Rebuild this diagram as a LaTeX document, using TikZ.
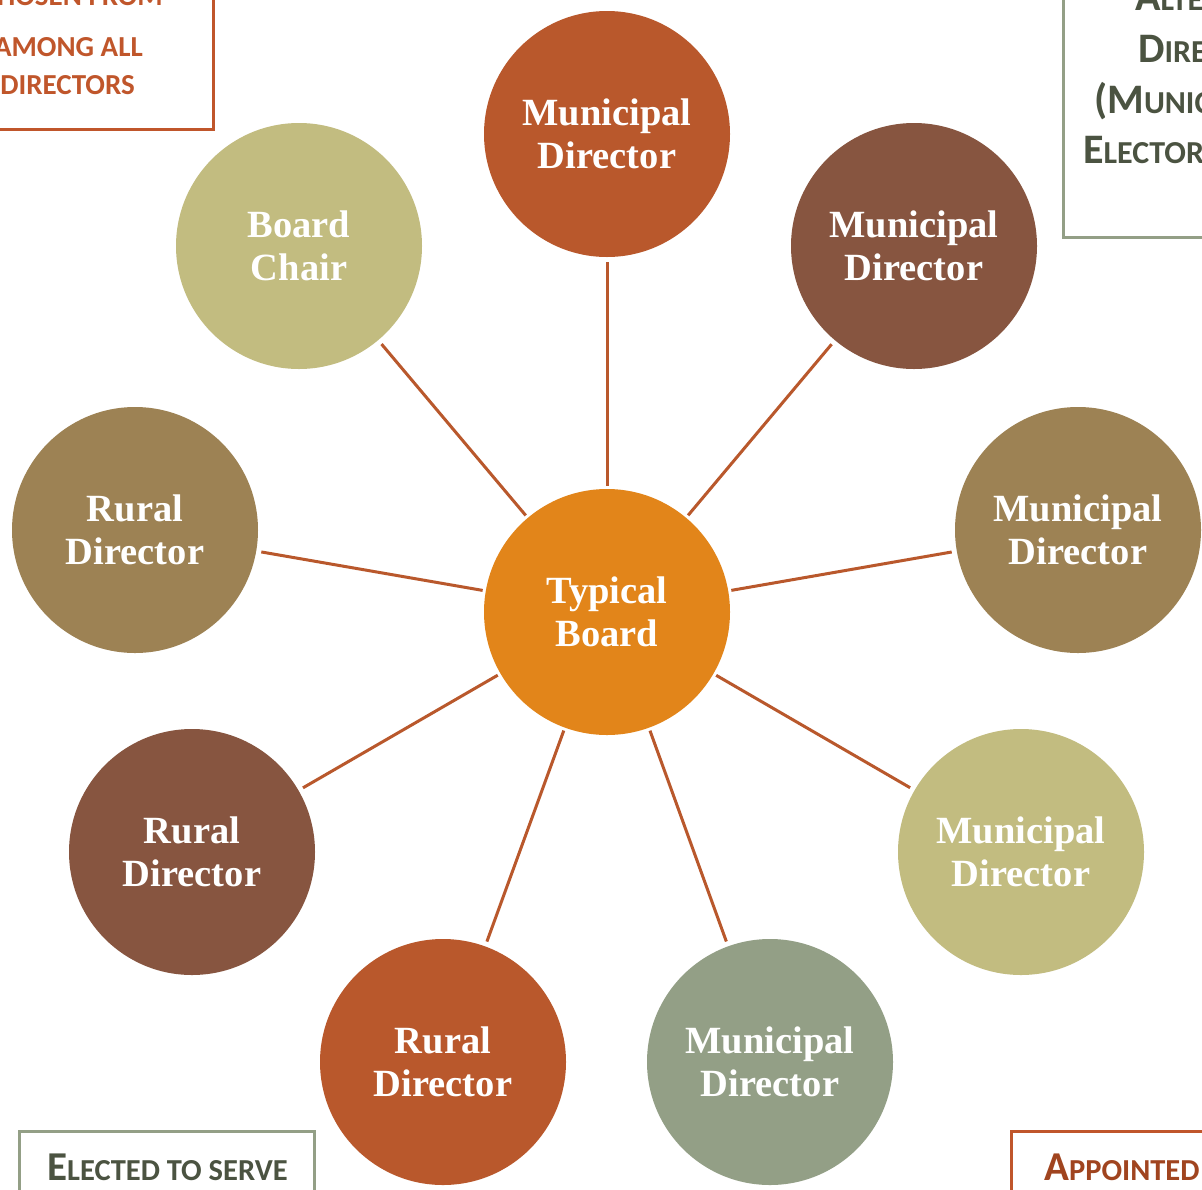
\documentclass[tikz,border=0pt]{standalone}
\usepackage{fontspec}
\setmainfont{Liberation Serif}
\newfontfamily\boxfont{Carlito}
\definecolor{rust}{HTML}{B9582C}
\definecolor{dbrown}{HTML}{875540}
\definecolor{kbrown}{HTML}{9D8254}
\definecolor{olive}{HTML}{C2BC80}
\definecolor{sage}{HTML}{939F86}
\definecolor{corange}{HTML}{E2851A}
\definecolor{rusttext}{HTML}{C0562B}
\definecolor{darkrust}{HTML}{A0441F}
\definecolor{darkolive}{HTML}{4B5341}
\newcommand\BigL[1]{{\fontsize{42}{42}\selectfont #1}}
\newcommand\BigM[1]{{\fontsize{36}{36}\selectfont #1}}
\begin{document}
\begin{tikzpicture}[x=1pt,y=-1pt,
  circ/.style={circle, minimum size=246pt, inner sep=0pt, text=white,
    font=\fontsize{38.5}{43.5}\selectfont\bfseries, align=center},
  link/.style={draw=rust, line width=3pt, shorten <=3pt, shorten >=5pt},
  boxline/.style={line width=3pt},
  smcL/.style={font=\boxfont\bfseries\fontsize{32}{32}\selectfont},
  smcS/.style={font=\boxfont\bfseries\fontsize{29}{29}\selectfont},
  smcB/.style={font=\boxfont\bfseries\fontsize{30.5}{30.5}\selectfont}]
\useasboundingbox (0,0) rectangle (1202,1189);
\clip (0,0) rectangle (1202,1189);
\fill[white] (0,0) rectangle (1202,1189);

% corner boxes
\draw[boxline, draw=rusttext] (-100,-20) rectangle (213,129);
\draw[boxline, draw=sage] (1063,-20) rectangle (1300,237);
\draw[boxline, draw=sage] (19,1131) rectangle (314,1300);
\draw[boxline, draw=rusttext] (1011,1131) rectangle (1300,1300);

% box texts
\node[smcS, text=rusttext, anchor=base east, inner sep=0pt] (tl1) at (163,5) {\BigM{C}HOSEN FROM};
\node[smcS, text=rusttext, anchor=base east, inner sep=0pt] (tl2) at (143,56) {AMONG ALL};
\node[smcS, text=rusttext, anchor=base east, inner sep=0pt] (tl3) at (135,94) {DIRECTORS};

\node[smcL, text=darkolive, anchor=base west, inner sep=0pt] (tr1) at (1135,10) {\BigL{A}LTERNATE};
\node[smcL, text=darkolive, anchor=base west, inner sep=0pt] (tr2) at (1138,62) {\BigL{D}IRECTORS};
\node[smcL, text=darkolive, anchor=base west, inner sep=0pt] (tr3) at (1094,113) {\BigL{(M}UNICIPAL AND};
\node[smcL, text=darkolive, anchor=base west, inner sep=0pt] (tr4) at (1083,163) {\BigL{E}LECTORAL \BigL{A}REA)};

\node[smcB, text=darkolive, anchor=base west, inner sep=0pt] (bl) at (47,1180) {{\fontsize{41}{41}\selectfont E}LECTED TO SERVE};
\node[smcB, text=darkrust, anchor=base west, inner sep=0pt] (br) at (1044,1180) {{\fontsize{41}{41}\selectfont A}PPOINTED};

% circles
\node[circ, fill=corange] (c) at (607,612) {Typical\\Board};
\node[circ, fill=rust] (n1) at (607,134) {Municipal\\Director};
\node[circ, fill=dbrown] (n2) at (914,246) {Municipal\\Director};
\node[circ, fill=kbrown] (n3) at (1078,530) {Municipal\\Director};
\node[circ, fill=olive] (n4) at (1021,852) {Municipal\\Director};
\node[circ, fill=sage] (n5) at (770,1062) {Municipal\\Director};
\node[circ, fill=rust] (n6) at (443,1062) {Rural\\Director};
\node[circ, fill=dbrown] (n7) at (192,852) {Rural\\Director};
\node[circ, fill=kbrown] (n8) at (135,530) {Rural\\Director};
\node[circ, fill=olive] (n9) at (299,246) {Board\\Chair};

\foreach \n in {n1,n2,n3,n4,n5,n6,n7,n8,n9}
  \draw[link] (c) -- (\n);
\end{tikzpicture}
\end{document}
